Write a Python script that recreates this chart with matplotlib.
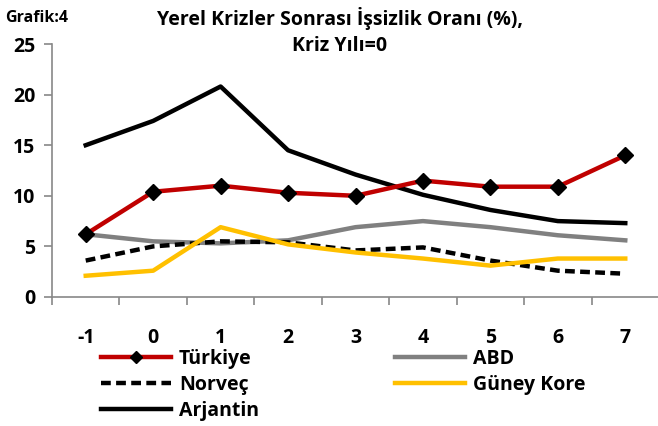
import matplotlib
matplotlib.use("Agg")
import matplotlib.pyplot as plt
from matplotlib.ticker import FixedLocator

plt.rcParams['font.family'] = ['Open Sans', 'DejaVu Sans']
plt.rcParams['font.weight'] = 'bold'
plt.rcParams['axes.unicode_minus'] = False

years = [-1, 0, 1, 2, 3, 4, 5, 6, 7]
turkiye = [6.2, 10.4, 11.0, 10.3, 10.0, 11.5, 10.9, 10.9, 14.0]
abd = [6.2, 5.5, 5.3, 5.6, 6.9, 7.5, 6.9, 6.1, 5.6]
norvec = [3.6, 5.0, 5.5, 5.4, 4.6, 4.9, 3.6, 2.6, 2.3]
guney_kore = [2.1, 2.6, 6.9, 5.2, 4.4, 3.8, 3.1, 3.8, 3.8]
arjantin = [15.0, 17.4, 20.8, 14.5, 12.1, 10.1, 8.6, 7.5, 7.3]
yticks = [0, 5, 10, 15, 20, 25]

W, H = 658, 426
fig = plt.figure(figsize=(W / 100, H / 100), dpi=100)
ax = fig.add_axes([52 / W, 1 - 297 / H, (659 - 52) / W, (297 - 44) / H])

lw = 3.2
l_t, = ax.plot(years, turkiye, color='#C00000', lw=lw, marker='D', ms=8,
               mfc='black', mec='black', label='Türkiye', zorder=5)
l_a, = ax.plot(years, abd, color='#808080', lw=lw, label='ABD', zorder=3)
l_n, = ax.plot(years, norvec, color='black', lw=lw, ls=(0, (2.2, 1.2)), label='Norveç', zorder=3)
l_g, = ax.plot(years, guney_kore, color='#FFC000', lw=lw, label='Güney Kore', zorder=4)
l_r, = ax.plot(years, arjantin, color='black', lw=lw, label='Arjantin', zorder=4)

ax.set_xlim(-1.5, 7.5)
ax.set_ylim(0, 25)
ax.set_yticks(yticks)
ax.set_xticks(years)
ax.xaxis.set_minor_locator(FixedLocator([y + 0.5 for y in [-2] + years]))
ax.tick_params(axis='x', which='major', length=0, pad=22, labelsize=14)
ax.tick_params(axis='x', which='minor', length=6, color='#888888', width=1.2, direction='out')
ax.tick_params(axis='y', length=6, color='#888888', width=1.2, labelsize=14, pad=6)
for s in ['top', 'right']:
    ax.spines[s].set_visible(False)
for s in ['left', 'bottom']:
    ax.spines[s].set_color('#888888')
    ax.spines[s].set_linewidth(1.2)
ax.patch.set_alpha(0)

fig.text(5 / W, 1 - 18 / H, 'Grafik:4', fontsize=11.5, fontweight='bold', va='center', ha='left')
fig.text(340 / W, 1 - 19 / H, 'Yerel Krizler Sonrası İşsizlik Oranı (%),', fontsize=14,
         fontweight='bold', ha='center', va='center')
fig.text(340 / W, 1 - 46 / H, 'Kriz Yılı=0', fontsize=14, fontweight='bold', ha='center', va='center')

leg = fig.legend(handles=[l_t, l_n, l_r, l_a, l_g], ncol=2, loc='upper left',
                 bbox_to_anchor=(101 / W, 1 - 349 / H), frameon=False, fontsize=14,
                 handlelength=3.6, handletextpad=0.4, columnspacing=7.0,
                 labelspacing=0.3, borderpad=0, borderaxespad=0, markerscale=0.8)

fig.savefig('out.png', dpi=100)
